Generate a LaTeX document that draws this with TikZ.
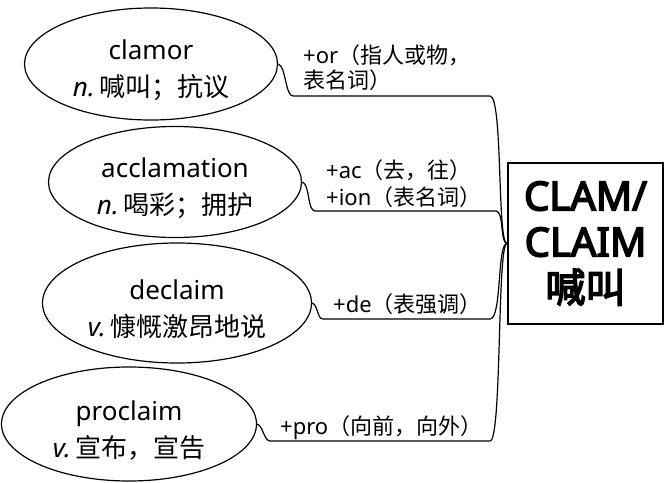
\documentclass[tikz,border=0pt]{standalone}
\usepackage{fontspec}
\setmainfont{Noto Sans}
\newfontfamily\rootfont{Noto Sans}[FakeBold=4]
\newfontfamily\cjk{Noto Sans CJK SC}
\newfontfamily\cjkbf{Noto Sans CJK SC}[FakeBold=4]
\usetikzlibrary{shapes.geometric}

\tikzset{
  wordnode/.style={draw,ellipse,line width=1.2pt,inner sep=0pt,align=center,
                   text height=69pt,font=\fontsize{26}{37}\selectfont},
  rootbox/.style={draw,line width=2pt,inner sep=0pt,minimum width=155pt,
                  minimum height=161pt,align=center,
                  font=\fontsize{40}{46}\selectfont\rootfont},
  affix/.style={inner sep=0pt,anchor=west,align=left},
  branch/.style={line width=1.2pt}
}

\begin{document}
\begin{tikzpicture}[x=1pt,y=-1pt]
  \useasboundingbox (0,0) rectangle (664,482);
  % root
  \node[rootbox] (root) at (585.5,243.5) {CLAM/\\CLAIM\\{\cjkbf 喊叫}};
  % words
  \node[wordnode,minimum width=253pt,minimum height=112pt] (clamor) at (151,64)
       {clamor\\\textit{n.}\,{\cjk 喊叫；抗议}};
  \node[wordnode,minimum width=253pt,minimum height=111pt] (acclamation) at (175,182)
       {acclamation\\\textit{n.}\,{\cjk 喝彩；拥护}};
  \node[wordnode,minimum width=269pt,minimum height=120pt] (declaim) at (177,303)
       {declaim\\\textit{v.}\,{\cjk 慷慨激昂地说}};
  \node[wordnode,minimum width=255pt,minimum height=114pt] (proclaim) at (129,424)
       {proclaim\\\textit{v.}\,{\cjk 宣布，宣告}};
  % branches
  \draw[branch] (clamor.east) .. controls +(8,2) and +(-8,0) .. ++(15,32)
        -- (490,96) .. controls (503,96) and (497,243) .. (root.west);
  \draw[branch] (acclamation.east) .. controls +(8,2) and +(-8,0) .. ++(13,29)
        -- (496,211) .. controls (504,211) and (500,243) .. (root.west);
  \draw[branch] (declaim.east) .. controls +(6,2) and +(-6,0) .. ++(11,16)
        -- (490,319) .. controls (502,319) and (497,243) .. (root.west);
  \draw[branch] (proclaim.east) .. controls +(6,2) and +(-6,0) .. ++(13,17)
        -- (490,441) .. controls (502,441) and (497,243) .. (root.west);
  % affixes
  \node[affix,font=\fontsize{22}{25}\selectfont] (orlab) at (303,67.5)
       {+or{\cjk（指人或物，}\\{\cjk 表名词）}};
  \node[affix,font=\fontsize{22}{27}\selectfont] (aclab) at (326,183.5)
       {+ac{\cjk（去，往）}\\+ion{\cjk（表名词）}};
  \node[affix,font=\fontsize{22}{25}\selectfont] (delab) at (333,304)
       {+de{\cjk（表强调）}};
  \node[affix,font=\fontsize{22}{25}\selectfont] (prolab) at (280,428)
       {+pro{\cjk（向前，向外）}};
\end{tikzpicture}
\end{document}
